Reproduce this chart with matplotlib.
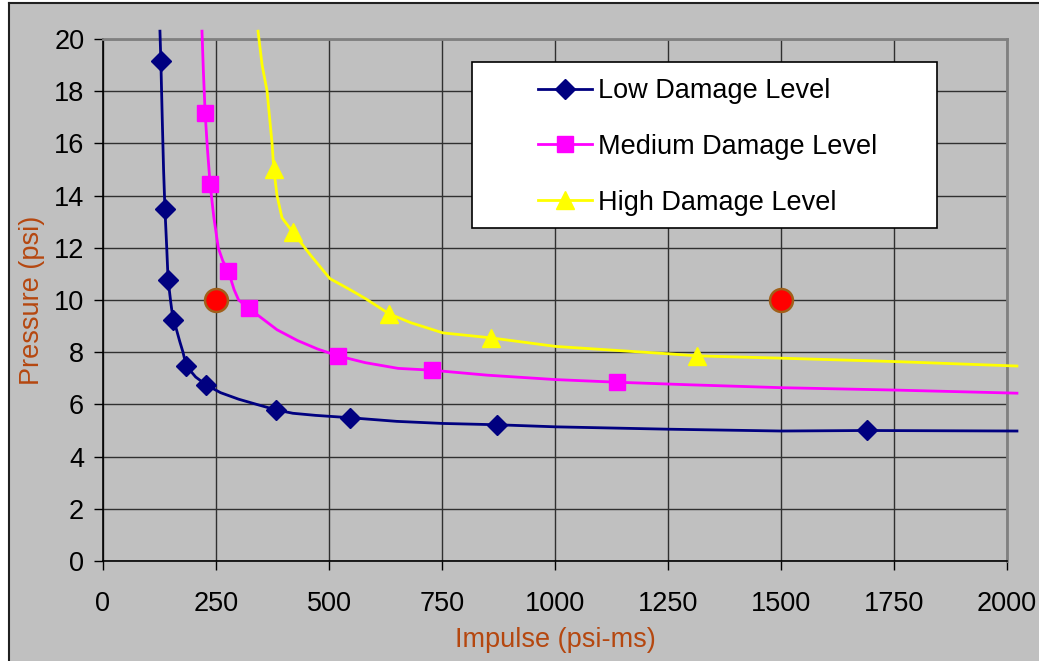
import matplotlib
matplotlib.use("Agg")
import matplotlib.pyplot as plt
from matplotlib.patches import Rectangle
from matplotlib.lines import Line2D

plt.rcParams['font.family'] = ['Liberation Sans', 'DejaVu Sans']

# marker points
low_x = [128, 137, 144, 155, 184, 228, 383, 546, 872, 1690]
low_y = [19.15, 13.5, 10.78, 9.25, 7.48, 6.75, 5.79, 5.49, 5.22, 5.0]
med_x = [226, 237, 277, 323, 520, 728, 1137]
med_y = [17.15, 14.43, 11.12, 9.68, 7.86, 7.31, 6.85]
high_x = [378, 420, 633, 858, 1314]
high_y = [15.0, 12.6, 9.47, 8.55, 7.86]
test_x = [250, 1500]
test_y = [10, 10]

# smoothed curves (traced points)
low_cx = [126, 128, 131, 134, 137, 141, 144, 150, 155, 162, 170, 177, 184, 205, 228,
          260, 300, 340, 383, 420, 470, 546, 650, 752, 872, 1002, 1250, 1500, 1690, 2022]
low_cy = [20.3, 19.15, 17.0, 15.0, 13.5, 12.0, 10.78, 9.9, 9.25, 8.9, 8.4, 8.0, 7.48, 7.05, 6.75,
          6.45, 6.2, 6.0, 5.79, 5.66, 5.58, 5.49, 5.35, 5.27, 5.22, 5.14, 5.05, 4.98, 5.0, 4.98]
med_cx = [219, 222, 226, 231, 237, 245, 255, 265, 277, 290, 300, 323, 350, 385, 430, 475,
          520, 580, 653, 728, 850, 1002, 1137, 1300, 1502, 1750, 2022]
med_cy = [20.3, 18.8, 17.15, 15.8, 14.43, 13.2, 12.0, 11.5, 11.12, 10.4, 10.0, 9.68, 9.32, 8.86,
          8.45, 8.12, 7.86, 7.6, 7.38, 7.31, 7.12, 6.95, 6.85, 6.75, 6.64, 6.55, 6.43]
high_cx = [343, 352, 363, 374, 378, 385, 396, 420, 460, 502, 546, 582, 633, 681, 752,
           858, 1002, 1250, 1314, 1502, 1754, 2022]
high_cy = [20.3, 19.0, 18.0, 16.0, 15.0, 14.0, 13.15, 12.6, 11.7, 10.82, 10.4, 10.04, 9.47,
           9.13, 8.74, 8.55, 8.22, 7.94, 7.86, 7.77, 7.64, 7.47]

xticks = [0, 250, 500, 750, 1000, 1250, 1500, 1750, 2000]
yticks = [0, 2, 4, 6, 8, 10, 12, 14, 16, 18, 20]

navy = '#000080'
magenta = '#FF00FF'
yellow = '#FFFF00'
gray = '#C0C0C0'
brown = '#B5470F'
fs = 19.5

W, H = 1039, 661
fig = plt.figure(figsize=(W / 100, H / 100), dpi=100)
fig.patch.set_facecolor('white')

# chart area background with border on left/top
fig.patches.append(Rectangle((9 / W, 0), 1 - 9 / W, (H - 3) / H, transform=fig.transFigure,
                             facecolor=gray, edgecolor='none', zorder=-10))
fig.lines.append(Line2D([9 / W, 9 / W], [0, (H - 3) / H], transform=fig.transFigure,
                        color='#202020', lw=1.5))
fig.lines.append(Line2D([9 / W, 1], [(H - 3) / H, (H - 3) / H], transform=fig.transFigure,
                        color='#202020', lw=1.5))

ax = fig.add_axes([103 / W, (H - 561) / H, (1007 - 103) / W, (561 - 39) / H])
ax.set_facecolor(gray)
ax.set_xlim(0, 2000)
ax.set_ylim(0, 20)
ax.set_xticks(xticks)
ax.set_yticks(yticks)
ax.grid(True, color='#303030', lw=1.0)
ax.set_axisbelow(True)
for s in ['left', 'bottom']:
    ax.spines[s].set_color('black')
    ax.spines[s].set_linewidth(1.2)
for s in ['top', 'right']:
    ax.spines[s].set_color('#808080')
    ax.spines[s].set_linewidth(2)
ax.tick_params(axis='both', direction='out', length=6.5, width=1, color='black',
               labelsize=fs, labelcolor='black')
ax.tick_params(axis='y', pad=7)
ax.tick_params(axis='x', pad=15)

ax.plot(low_cx, low_cy, color=navy, lw=2, clip_on=False, zorder=3)
ax.plot(med_cx, med_cy, color=magenta, lw=2, clip_on=False, zorder=3)
ax.plot(high_cx, high_cy, color=yellow, lw=2, clip_on=False, zorder=3)

ax.plot(low_x, low_y, 'D', color=navy, ms=10, zorder=4)
ax.plot(med_x, med_y, 's', color=magenta, ms=11.5, zorder=4)
ax.plot(high_x, high_y, '^', color=yellow, ms=13.5, zorder=4)
ax.plot(test_x, test_y, 'o', color='red', mec='#A0601A', mew=1.8, ms=16.5, zorder=5)

fig.text(32 / W, 1 - 300 / H, 'Pressure (psi)', rotation=90, ha='center', va='center',
         color=brown, fontsize=fs)
fig.text(555 / W, 1 - 640 / H, 'Impulse (psi-ms)', ha='center', va='center',
         color=brown, fontsize=fs)

# legend box
ax.add_patch(Rectangle((472 / W, 1 - 228 / H), (937 - 472) / W, (228 - 62) / H,
                       transform=fig.transFigure, facecolor='white', edgecolor='black',
                       lw=1.2, clip_on=False, zorder=6))
handles = [
    Line2D([], [], color=navy, lw=2, marker='D', ms=10),
    Line2D([], [], color=magenta, lw=2, marker='s', ms=11.5),
    Line2D([], [], color=yellow, lw=2, marker='^', ms=13.5),
]
labels = ['Low Damage Level', 'Medium Damage Level', 'High Damage Level']
leg = ax.legend(handles, labels, loc='upper left', bbox_to_anchor=(538 / W, 1 - 78 / H),
                bbox_transform=fig.transFigure, frameon=False, fontsize=fs,
                handlelength=2.0, handletextpad=0.2, labelspacing=1.1, borderpad=0,
                borderaxespad=0)
leg.set_zorder(7)

fig.savefig('out.png', dpi=100)
